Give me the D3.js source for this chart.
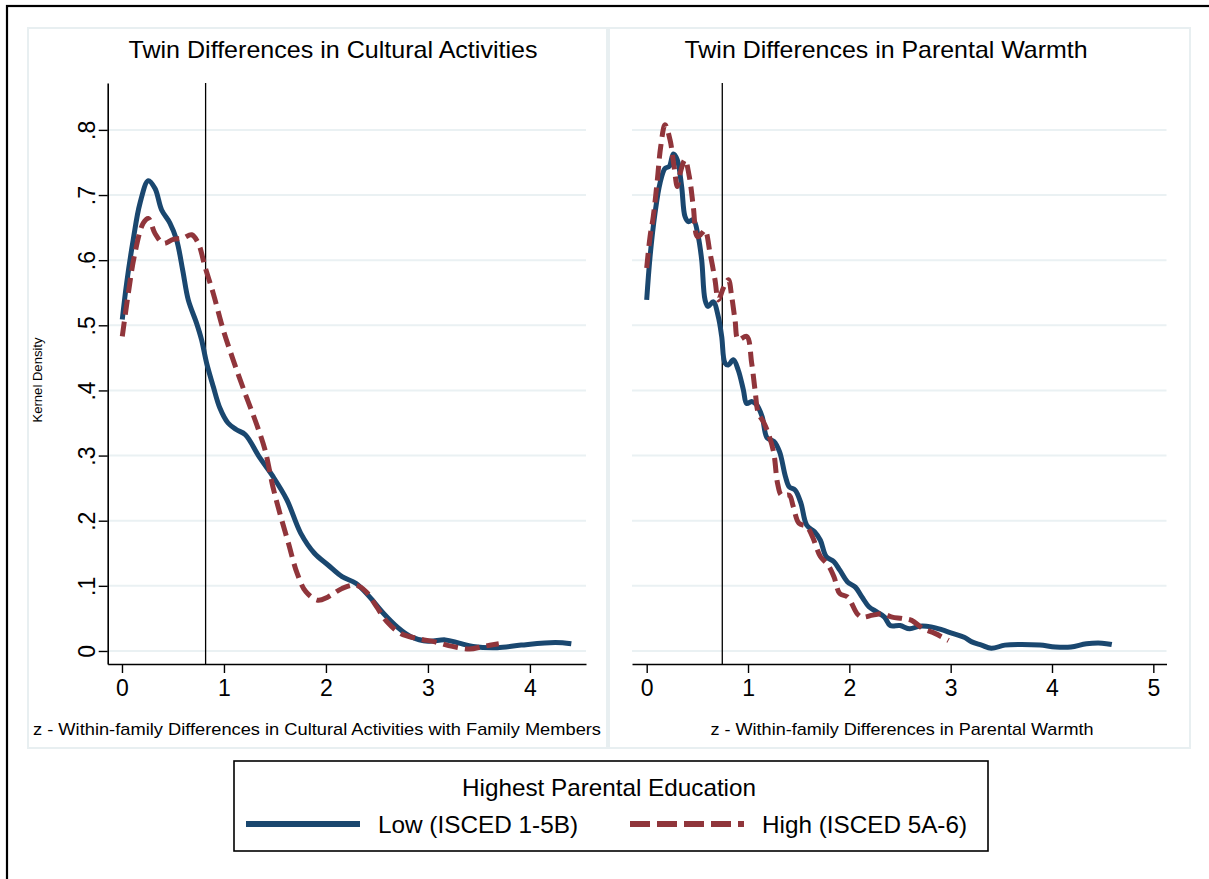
<!DOCTYPE html>
<html>
<head>
<meta charset="utf-8">
<script src="https://cdn.jsdelivr.net/npm/d3@7"></script>
<style>
  html, body { margin: 0; padding: 0; background: #fff; }
  svg { display: block; font-family: "Liberation Sans", Arial, Helvetica, sans-serif; }
</style>
</head>
<body>
<svg id="chart" width="1209" height="879"></svg>
<script>
// Kernel density estimates of twin differences, by highest parental education
const panelTitles = ["Twin Differences in Cultural Activities", "Twin Differences in Parental Warmth"];
const xAxisTitles = [
  "z - Within-family Differences in Cultural Activities with Family Members",
  "z - Within-family Differences in Parental Warmth"
];
const yAxisTitle = "Kernel Density";
const legendTitle = "Highest Parental Education";
const seriesNames = ["Low (ISCED 1-5B)", "High (ISCED 5A-6)"];

const xTicksCulture = [0, 1, 2, 3, 4];
const xTicksWarmth = [0, 1, 2, 3, 4, 5];
const yTicks = [0, 0.1, 0.2, 0.3, 0.4, 0.5, 0.6, 0.7, 0.8];
const yTickLabels = ["0", ".1", ".2", ".3", ".4", ".5", ".6", ".7", ".8"];

// vertical reference lines (x value)
const cultureRef = 0.82;
const warmthRef = 0.746;

// [x, density]
const cultureLow = [
  [0.003, 0.509], [0.046, 0.565], [0.11, 0.631], [0.176, 0.687], [0.258, 0.722],
  [0.324, 0.710], [0.389, 0.677], [0.47, 0.657], [0.536, 0.631], [0.595, 0.585],
  [0.65, 0.539], [0.732, 0.503], [0.78, 0.478], [0.83, 0.442], [0.895, 0.406],
  [0.96, 0.373], [1.04, 0.350], [1.12, 0.340], [1.21, 0.332], [1.346, 0.298],
  [1.48, 0.268], [1.617, 0.232], [1.752, 0.181], [1.887, 0.150], [2.02, 0.132],
  [2.158, 0.114], [2.293, 0.104], [2.428, 0.083], [2.563, 0.058], [2.698, 0.037],
  [2.833, 0.022], [3.003, 0.015], [3.17, 0.017], [3.307, 0.012], [3.442, 0.007],
  [3.68, 0.005], [3.915, 0.009], [4.25, 0.013], [4.406, 0.011]
];
const cultureHigh = [
  [0.003, 0.483], [0.062, 0.549], [0.127, 0.611], [0.209, 0.657], [0.258, 0.664],
  [0.324, 0.641], [0.405, 0.626], [0.503, 0.632], [0.6, 0.634], [0.683, 0.639],
  [0.748, 0.626], [0.814, 0.590], [0.895, 0.549], [0.993, 0.493], [1.09, 0.447],
  [1.206, 0.396], [1.304, 0.355], [1.402, 0.309], [1.48, 0.252], [1.549, 0.211],
  [1.633, 0.165], [1.718, 0.119], [1.803, 0.091], [1.92, 0.078], [2.02, 0.083],
  [2.158, 0.096], [2.293, 0.101], [2.394, 0.091], [2.496, 0.068], [2.597, 0.045],
  [2.732, 0.027], [2.9, 0.019], [3.07, 0.014], [3.24, 0.007], [3.409, 0.003],
  [3.544, 0.007], [3.695, 0.011]
];
const warmthLow = [
  [0.0, 0.539], [0.033, 0.605], [0.082, 0.672], [0.131, 0.718], [0.181, 0.741],
  [0.223, 0.744], [0.263, 0.763], [0.302, 0.754], [0.345, 0.713], [0.378, 0.667],
  [0.411, 0.659], [0.46, 0.662], [0.509, 0.636], [0.543, 0.600], [0.576, 0.539],
  [0.605, 0.529], [0.657, 0.536], [0.707, 0.513], [0.74, 0.483], [0.773, 0.442],
  [0.806, 0.439], [0.855, 0.447], [0.904, 0.431], [0.954, 0.401], [0.987, 0.380],
  [1.036, 0.383], [1.086, 0.378], [1.139, 0.360], [1.189, 0.327], [1.254, 0.322],
  [1.311, 0.306], [1.369, 0.268], [1.407, 0.252], [1.465, 0.247], [1.522, 0.227],
  [1.58, 0.193], [1.656, 0.183], [1.714, 0.170], [1.771, 0.145], [1.848, 0.137],
  [1.906, 0.124], [1.982, 0.106], [2.059, 0.098], [2.124, 0.083], [2.193, 0.068],
  [2.27, 0.060], [2.347, 0.052], [2.404, 0.039], [2.5, 0.039], [2.596, 0.034],
  [2.692, 0.038], [2.807, 0.037], [2.903, 0.033], [3.018, 0.027], [3.133, 0.021],
  [3.209, 0.014], [3.305, 0.009], [3.401, 0.004], [3.535, 0.009], [3.689, 0.010],
  [3.881, 0.009], [4.034, 0.006], [4.187, 0.006], [4.34, 0.011], [4.494, 0.012],
  [4.59, 0.010]
];
const warmthHigh = [
  [0.0, 0.588], [0.033, 0.636], [0.065, 0.667], [0.105, 0.723], [0.138, 0.774],
  [0.181, 0.808], [0.23, 0.785], [0.27, 0.744], [0.302, 0.713], [0.329, 0.733],
  [0.378, 0.754], [0.421, 0.728], [0.46, 0.682], [0.5, 0.636], [0.543, 0.641],
  [0.576, 0.646], [0.625, 0.611], [0.674, 0.570], [0.707, 0.539], [0.756, 0.557],
  [0.806, 0.570], [0.839, 0.544], [0.872, 0.508], [0.904, 0.478], [0.987, 0.483],
  [1.036, 0.442], [1.069, 0.401], [1.102, 0.365], [1.151, 0.352], [1.2, 0.334],
  [1.254, 0.304], [1.292, 0.257], [1.331, 0.239], [1.407, 0.239], [1.446, 0.222],
  [1.503, 0.196], [1.58, 0.191], [1.637, 0.175], [1.714, 0.145], [1.79, 0.132],
  [1.848, 0.114], [1.906, 0.088], [1.982, 0.083], [2.078, 0.057], [2.124, 0.052],
  [2.232, 0.055], [2.327, 0.057], [2.423, 0.052], [2.519, 0.050], [2.615, 0.047],
  [2.73, 0.034], [2.845, 0.027], [2.979, 0.016]
];

const colors = { low: "#1a476f", high: "#90353b" };
const gridColor = "#eaf1f3";
const dash = "15,7";
const legendDash = "20,7";

const svg = d3.select("#chart");

// outer frame
svg.append("rect").attr("x", 7).attr("y", 6).attr("width", 1240).attr("height", 920)
  .attr("fill", "#fff").attr("stroke", "#000").attr("stroke-width", 2.2);

const panels = [
  {
    box: [28, 28, 607, 748],
    title: panelTitles[0], titleX: 333, titleLen: 409,
    xTitle: xAxisTitles[0], xTitleX: 317, xTitleLen: 568,
    xDomain: [-0.14, 4.55], xRange: [107.7, 586],
    ticks: xTicksCulture, ref: cultureRef,
    low: cultureLow, high: cultureHigh, yAxis: true
  },
  {
    box: [609, 28, 1190, 748],
    title: panelTitles[1], titleX: 886, titleLen: 403,
    xTitle: xAxisTitles[1], xTitleX: 902, xTitleLen: 383,
    xDomain: [-0.145, 5.13], xRange: [632, 1166.5],
    ticks: xTicksWarmth, ref: warmthRef,
    low: warmthLow, high: warmthHigh, yAxis: false
  }
];

const y = d3.scaleLinear().domain([-0.02, 0.872]).range([664, 83]);

panels.forEach(p => {
  const g = svg.append("g");
  const [x0, y0, x1, y1] = p.box;
  g.append("rect").attr("x", x0).attr("y", y0).attr("width", x1 - x0).attr("height", y1 - y0)
    .attr("fill", "#fff").attr("stroke", "#e8eff1").attr("stroke-width", 2);

  const x = d3.scaleLinear().domain(p.xDomain).range(p.xRange);

  // grid
  g.append("g").selectAll("line").data(yTicks).join("line")
    .attr("x1", p.xRange[0]).attr("x2", p.xRange[1])
    .attr("y1", d => y(d)).attr("y2", d => y(d))
    .attr("stroke", gridColor).attr("stroke-width", 2);

  // title
  g.append("text").attr("x", p.titleX).attr("y", 58).attr("text-anchor", "middle")
    .attr("font-size", 24).attr("fill", "#000")
    .attr("textLength", p.titleLen).attr("lengthAdjust", "spacingAndGlyphs")
    .text(p.title);

  // x axis
  const xa = g.append("g").attr("transform", "translate(0,664)")
    .call(d3.axisBottom(x).tickValues(p.ticks).tickFormat(d3.format("d"))
      .tickSize(9).tickSizeOuter(0).tickPadding(7));
  xa.select(".domain").attr("stroke", "#000").attr("stroke-width", 1.6);
  xa.selectAll(".tick line").attr("stroke", "#000").attr("stroke-width", 1.4);
  xa.selectAll(".tick text").attr("font-size", 23).attr("fill", "#000")
    .attr("font-family", "Liberation Sans, Arial, sans-serif");

  g.append("text").attr("x", p.xTitleX).attr("y", 735).attr("text-anchor", "middle")
    .attr("font-size", 17).attr("fill", "#000")
    .attr("textLength", p.xTitleLen).attr("lengthAdjust", "spacingAndGlyphs")
    .text(p.xTitle);

  if (p.yAxis) {
    const ya = g.append("g").attr("transform", `translate(${p.xRange[0]},0)`)
      .call(d3.axisLeft(y).tickValues(yTicks).tickFormat((d, i) => yTickLabels[i])
        .tickSize(9).tickSizeOuter(0).tickPadding(0));
    ya.select(".domain").attr("stroke", "#000").attr("stroke-width", 1.6);
    ya.selectAll(".tick line").attr("stroke", "#000").attr("stroke-width", 1.4);
    ya.selectAll(".tick text").attr("font-size", 23).attr("fill", "#000")
      .attr("font-family", "Liberation Sans, Arial, sans-serif")
      .attr("text-anchor", "middle").attr("dy", null).attr("x", null)
      .attr("transform", "translate(-21,0) rotate(-90)")
      .attr("dominant-baseline", "central");
    g.append("text").attr("transform", "translate(42,380) rotate(-90)")
      .attr("text-anchor", "middle").attr("font-size", 12).attr("fill", "#000")
      .attr("textLength", 85).attr("lengthAdjust", "spacingAndGlyphs")
      .text(yAxisTitle);
  }

  // reference line
  g.append("line").attr("x1", x(p.ref)).attr("x2", x(p.ref)).attr("y1", 83).attr("y2", 664)
    .attr("stroke", "#000").attr("stroke-width", 1.3);

  const line = d3.line().x(d => x(d[0])).y(d => y(d[1])).curve(d3.curveCatmullRom.alpha(0.5));
  g.append("path").datum(p.low).attr("d", line).attr("fill", "none")
    .attr("stroke", colors.low).attr("stroke-width", 5).attr("stroke-linejoin", "round");
  g.append("path").datum(p.high).attr("d", line).attr("fill", "none")
    .attr("stroke", colors.high).attr("stroke-width", 5).attr("stroke-dasharray", dash);
});

// legend
const lg = svg.append("g");
lg.append("rect").attr("x", 234).attr("y", 761).attr("width", 754).attr("height", 90)
  .attr("fill", "#fff").attr("stroke", "#000").attr("stroke-width", 1.6);
lg.append("text").attr("x", 609).attr("y", 796).attr("text-anchor", "middle")
  .attr("font-size", 24).attr("fill", "#000")
  .attr("textLength", 294).attr("lengthAdjust", "spacingAndGlyphs")
  .text(legendTitle);
const legendItems = [
  { name: seriesNames[0], color: colors.low, dash: null, x: 246, len: 200 },
  { name: seriesNames[1], color: colors.high, dash: legendDash, x: 630, len: 205 }
];
legendItems.forEach(it => {
  lg.append("line").attr("x1", it.x).attr("x2", it.x + 114).attr("y1", 824).attr("y2", 824)
    .attr("stroke", it.color).attr("stroke-width", 6).attr("stroke-dasharray", it.dash);
  lg.append("text").attr("x", it.x + 132).attr("y", 833).attr("font-size", 24)
    .attr("fill", "#000")
    .attr("textLength", it.len).attr("lengthAdjust", "spacingAndGlyphs")
    .text(it.name);
});
</script>
</body>
</html>
